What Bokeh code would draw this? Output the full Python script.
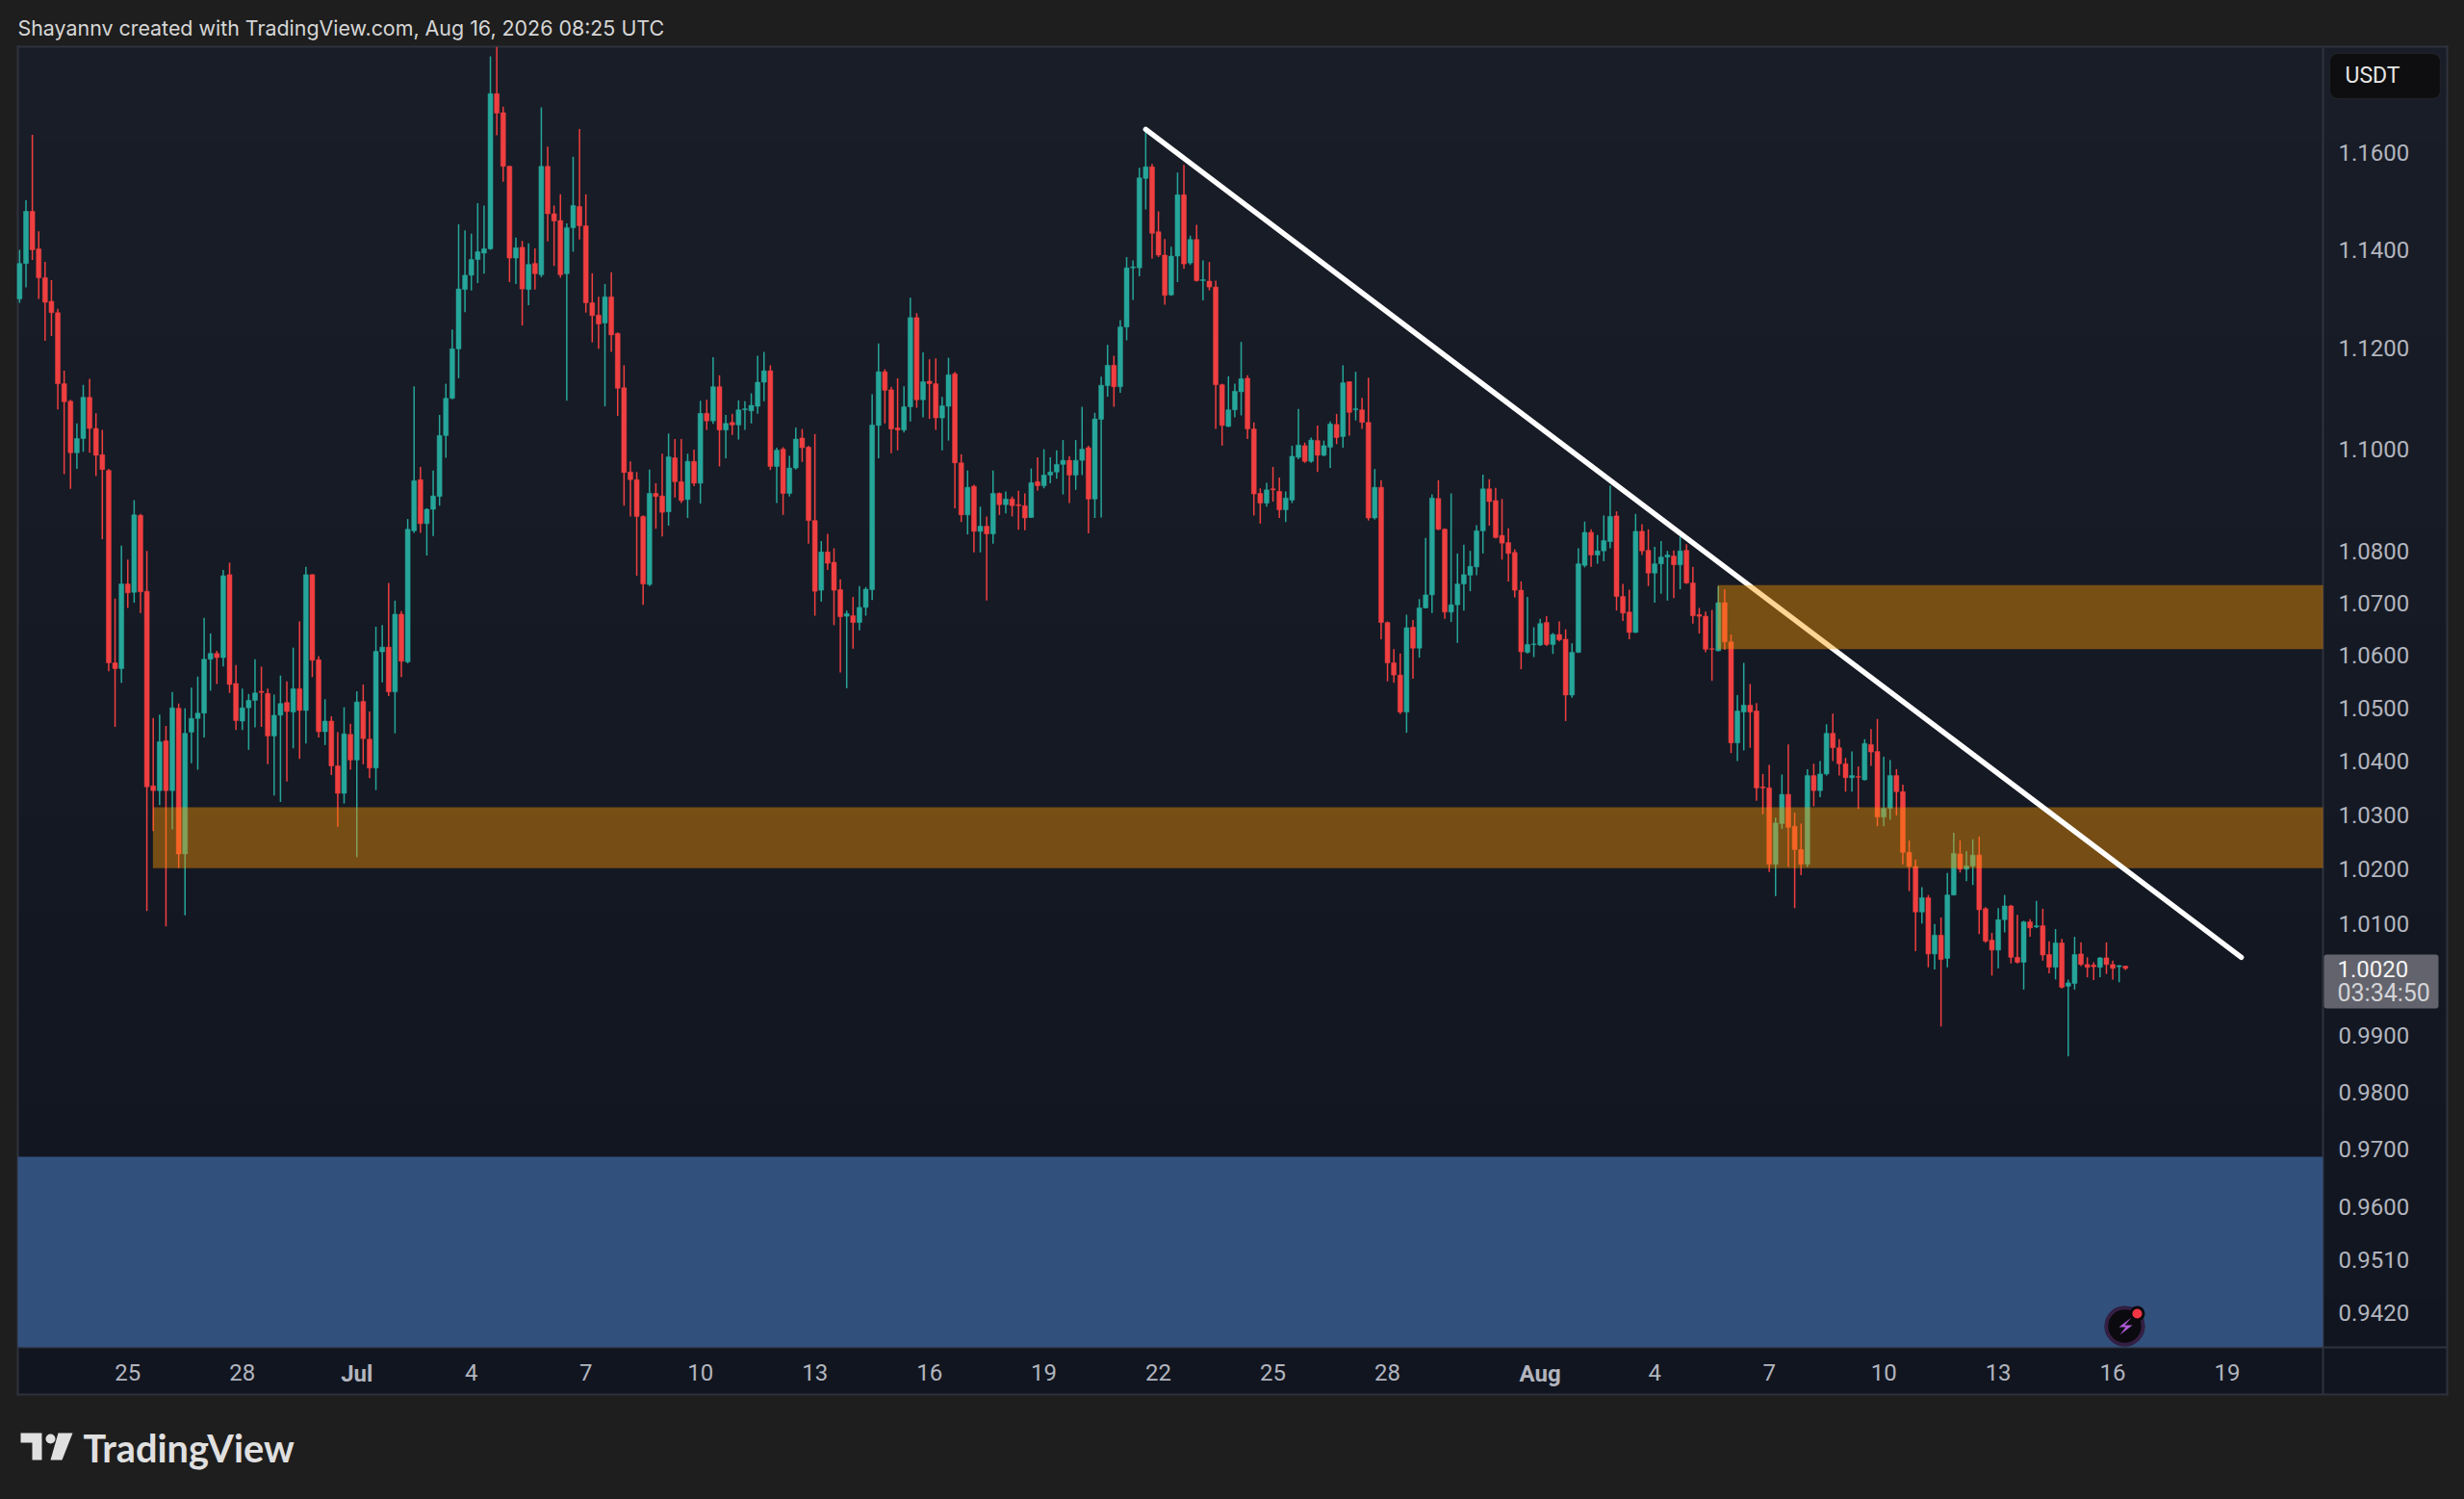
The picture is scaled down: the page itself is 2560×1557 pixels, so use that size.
import pandas as pd
from bokeh.plotting import figure
from bokeh.models import (BoxAnnotation, ColumnDataSource, FixedTicker, Label, PolyAnnotation,
                          PrintfTickFormatter, Range1d)
from bokeh.embed import file_html
from bokeh.resources import INLINE

first_candle = "2026-06-22 04:00"

open_ = [
 1.1300,1.1372,1.1479,1.1402,1.1343,1.1295,1.1272,1.1129,1.1094,1.0992,
 1.1020,1.1102,1.1040,1.0988,1.0957,1.0585,1.0574,1.0736,1.0720,1.0869,
 1.0722,1.0354,1.0345,1.0438,1.0345,1.0499,1.0228,1.0454,1.0480,1.0490,
 1.0592,1.0603,1.0595,1.0754,1.0546,1.0475,1.0500,1.0514,1.0531,1.0527,
 1.0447,1.0486,1.0510,1.0492,1.0536,1.0495,1.0754,1.0591,1.0455,1.0475,
 1.0391,1.0340,1.0450,1.0402,1.0512,1.0441,1.0387,1.0606,1.0615,1.0530,
 1.0678,1.0587,1.0839,1.0939,1.0853,1.0881,1.0906,1.1026,1.1100,1.1199,
 1.1319,1.1348,1.1380,1.1393,1.1402,1.1724,1.1684,1.1572,1.1383,1.1405,
 1.1319,1.1372,1.1349,1.1572,1.1474,1.1460,1.1351,1.1445,1.1489,1.1449,
 1.1292,1.1267,1.1251,1.1304,1.1230,1.1121,1.0954,1.0939,1.0867,1.0735,
 1.0912,1.0907,1.0876,1.0982,1.0935,1.0900,1.0975,1.0932,1.1070,1.1055,
 1.1123,1.1037,1.1052,1.1047,1.1077,1.1075,1.1084,1.1132,1.1155,1.0965,
 1.0999,1.0912,1.0962,1.1021,1.1003,1.0859,1.0724,1.0798,1.0778,1.0725,
 1.0674,1.0675,1.0662,1.0691,1.0725,1.1046,1.1153,1.1117,1.1041,1.1037,
 1.1083,1.1262,1.1097,1.1134,1.1129,1.1061,1.1084,1.1149,1.0972,1.0870,
 1.0926,1.0838,1.0848,1.0833,1.0912,1.0890,1.0901,1.0890,1.0888,1.0865,
 1.0935,1.0927,1.0948,1.0954,1.0969,1.0977,1.0948,1.0977,1.1002,1.0901,
 1.1058,1.1125,1.1166,1.1123,1.1243,1.1363,1.1363,1.1547,1.1571,1.1437,
 1.1389,1.1308,1.1387,1.1513,1.1373,1.1421,1.1337,1.1336,1.1324,1.1127,
 1.1044,1.1077,1.1113,1.1140,1.1039,1.0912,1.0893,1.0921,1.0916,1.0880,
 1.0899,1.0983,1.1006,1.0975,1.1016,1.0987,1.1003,1.1048,1.1024,1.1133,
 1.1077,1.1077,1.1052,1.0864,1.0924,1.0662,1.0585,1.0562,1.0492,1.0653,
 1.0613,1.0690,1.0715,1.0902,1.0842,1.0682,1.0696,1.0736,1.0753,1.0769,
 1.0839,1.0921,1.0898,1.0830,1.0816,1.0797,1.0724,1.0605,1.0620,1.0619,
 1.0662,1.0620,1.0639,1.0630,1.0524,1.0605,1.0772,1.0836,1.0792,1.0800,
 1.0818,1.0868,1.0712,1.0682,1.0643,1.0838,1.0801,1.0757,1.0775,1.0788,
 1.0790,1.0773,1.0801,1.0738,1.0677,1.0674,1.0612,1.0608,1.0700,1.0625,
 1.0434,1.0492,1.0505,1.0494,1.0352,1.0350,1.0209,1.0284,1.0338,1.0279,
 1.0236,1.0209,1.0373,1.0345,1.0376,1.0452,1.0425,1.0395,1.0369,1.0371,
 1.0365,1.0431,1.0418,1.0296,1.0312,1.0373,1.0343,1.0231,1.0205,1.0122,
 1.0148,1.0046,1.0080,1.0038,1.0153,1.0228,1.0200,1.0206,1.0226,1.0128,
 1.0071,1.0053,1.0108,1.0133,1.0040,1.0031,1.0104,1.0095,1.0097,1.0045,
 1.0022,1.0066,0.9988,0.9993,1.0046,1.0027,1.0026,1.0022,1.0039,1.0027,1.0023,1.0024,
]
high = [
 1.1400,1.1502,1.1638,1.1438,1.1375,1.1338,1.1280,1.1155,1.1097,1.1050,
 1.1127,1.1139,1.1070,1.1037,1.0960,1.0708,1.0810,1.0783,1.0899,1.0872,
 1.0800,1.0481,1.0487,1.0466,1.0530,1.0508,1.0499,1.0538,1.0559,1.0671,
 1.0641,1.0608,1.0763,1.0777,1.0581,1.0536,1.0526,1.0592,1.0578,1.0536,
 1.0525,1.0561,1.0550,1.0614,1.0664,1.0769,1.0755,1.0598,1.0516,1.0484,
 1.0454,1.0501,1.0470,1.0531,1.0544,1.0493,1.0654,1.0657,1.0738,1.0704,
 1.0684,1.0862,1.1124,1.0964,1.0883,1.0957,1.1067,1.1129,1.1238,1.1452,
 1.1440,1.1433,1.1496,1.1491,1.1803,1.1823,1.1697,1.1573,1.1425,1.1418,
 1.1413,1.1403,1.1695,1.1613,1.1491,1.1514,1.1454,1.1592,1.1650,1.1514,
 1.1352,1.1304,1.1330,1.1354,1.1232,1.1166,1.0975,1.0954,1.0869,1.0959,
 1.0932,1.0990,1.1030,1.1019,1.1019,1.0990,1.0998,1.1095,1.1097,1.1182,
 1.1146,1.1067,1.1069,1.1096,1.1094,1.1110,1.1185,1.1193,1.1166,1.1002,
 1.1003,1.0986,1.1042,1.1039,1.1006,1.1029,1.0819,1.0833,1.0805,1.0745,
 1.0685,1.0711,1.0732,1.0730,1.1108,1.1210,1.1158,1.1123,1.1140,1.1124,
 1.1302,1.1271,1.1192,1.1178,1.1180,1.1103,1.1181,1.1153,1.0989,1.0957,
 1.0929,1.0886,1.0867,1.0957,1.0914,1.0916,1.0906,1.0917,1.0912,1.0961,
 1.0983,1.0999,1.0983,1.0997,1.1017,1.0985,1.1017,1.1083,1.1006,1.1071,
 1.1143,1.1207,1.1185,1.1257,1.1385,1.1378,1.1569,1.1644,1.1577,1.1479,
 1.1422,1.1406,1.1559,1.1575,1.1429,1.1451,1.1378,1.1375,1.1337,1.1129,
 1.1144,1.1129,1.1213,1.1146,1.1052,1.0922,1.0933,1.0964,1.0943,1.0916,
 1.1006,1.1079,1.1012,1.1022,1.1046,1.1016,1.1054,1.1069,1.1166,1.1134,
 1.1153,1.1101,1.1141,1.0960,1.0938,1.0664,1.0611,1.0603,1.0677,1.0667,
 1.0707,1.0825,1.0910,1.0938,1.0844,1.0912,1.0795,1.0812,1.0800,1.0850,
 1.0949,1.0940,1.0923,1.0901,1.0844,1.0803,1.0741,1.0711,1.0653,1.0669,
 1.0674,1.0642,1.0664,1.0649,1.0622,1.0805,1.0857,1.0842,1.0831,1.0869,
 1.0927,1.0877,1.0736,1.0725,1.0872,1.0852,1.0842,1.0808,1.0819,1.0800,
 1.0801,1.0828,1.0813,1.0769,1.0690,1.0683,1.0686,1.0732,1.0726,1.0639,
 1.0524,1.0585,1.0545,1.0509,1.0376,1.0393,1.0295,1.0375,1.0431,1.0304,
 1.0284,1.0385,1.0395,1.0400,1.0469,1.0489,1.0441,1.0406,1.0418,1.0390,
 1.0441,1.0460,1.0479,1.0408,1.0402,1.0385,1.0356,1.0253,1.0218,1.0167,
 1.0153,1.0100,1.0112,1.0193,1.0267,1.0253,1.0233,1.0255,1.0260,1.0131,
 1.0084,1.0129,1.0153,1.0135,1.0117,1.0106,1.0109,1.0142,1.0128,1.0069,
 1.0091,1.0073,1.0000,1.0077,1.0067,1.0040,1.0031,1.0040,1.0067,1.0034,1.0026,1.0025,
]
low = [
 1.1292,1.1323,1.1379,1.1300,1.1215,1.1225,1.1078,1.0950,1.0921,1.0960,
 1.0994,1.0992,1.0946,1.0823,1.0569,1.0464,1.0547,1.0690,1.0700,1.0680,
 1.0124,1.0270,1.0318,1.0096,1.0273,1.0202,1.0116,1.0396,1.0384,1.0444,
 1.0532,1.0545,1.0578,1.0528,1.0458,1.0458,1.0421,1.0463,1.0464,1.0394,
 1.0336,1.0324,1.0362,1.0424,1.0404,1.0433,1.0558,1.0444,1.0430,1.0374,
 1.0278,1.0321,1.0384,1.0222,1.0394,1.0368,1.0346,1.0548,1.0522,1.0452,
 1.0558,1.0584,1.0835,1.0835,1.0791,1.0829,1.0888,1.0982,1.1098,1.1140,
 1.1273,1.1317,1.1332,1.1351,1.1400,1.1637,1.1540,1.1334,1.1330,1.1246,
 1.1287,1.1319,1.1344,1.1417,1.1367,1.1343,1.1095,1.1396,1.1421,1.1272,
 1.1212,1.1199,1.1084,1.1193,1.1065,1.0888,1.0867,1.0752,1.0696,1.0732,
 1.0843,1.0828,1.0849,1.0904,1.0893,1.0864,1.0926,1.0892,1.1037,1.1049,
 1.0965,1.0981,1.1027,1.1018,1.1037,1.1050,1.1069,1.1094,1.0958,1.0893,
 1.0870,1.0906,1.0959,1.0974,1.0814,1.0675,1.0702,1.0763,1.0657,1.0567,
 1.0537,1.0612,1.0647,1.0675,1.0705,1.0981,1.1050,1.0991,1.0997,1.1032,
 1.1054,1.1081,1.1062,1.1059,1.1037,1.0997,1.1016,1.0883,1.0856,1.0832,
 1.0797,1.0797,1.0704,1.0814,1.0870,1.0873,1.0867,1.0841,1.0840,1.0864,
 1.0917,1.0922,1.0932,1.0941,1.0910,1.0893,1.0919,1.0948,1.0834,1.0864,
 1.0865,1.1103,1.1083,1.1111,1.1216,1.1298,1.1346,1.1483,1.1382,1.1385,
 1.1288,1.1306,1.1334,1.1361,1.1369,1.1335,1.1297,1.1317,1.1039,1.1006,
 1.1043,1.1062,1.1066,1.1019,1.0869,1.0853,1.0886,1.0896,1.0864,1.0856,
 1.0893,1.0979,1.0972,1.0972,1.0954,1.0985,1.0962,1.1009,1.1002,1.1026,
 1.1056,1.1039,1.0859,1.0861,1.0630,1.0550,1.0547,1.0488,1.0453,1.0555,
 1.0595,1.0689,1.0680,1.0840,1.0669,1.0663,1.0623,1.0685,1.0722,1.0753,
 1.0795,1.0849,1.0824,1.0783,1.0741,1.0710,1.0573,1.0603,1.0596,1.0617,
 1.0617,1.0602,1.0626,1.0475,1.0519,1.0604,1.0768,1.0769,1.0775,1.0780,
 1.0805,1.0685,1.0665,1.0630,1.0642,1.0792,1.0732,1.0700,1.0717,1.0704,
 1.0709,1.0726,1.0736,1.0660,1.0641,1.0605,1.0551,1.0607,1.0610,1.0415,
 1.0400,1.0420,1.0425,1.0326,1.0301,1.0195,1.0151,1.0274,1.0204,1.0129,
 1.0189,1.0204,1.0316,1.0333,1.0373,1.0400,1.0373,1.0343,1.0343,1.0311,
 1.0364,1.0391,1.0279,1.0279,1.0291,1.0299,1.0209,1.0160,1.0051,1.0101,
 1.0022,1.0018,0.9916,1.0022,1.0152,1.0194,1.0178,1.0171,1.0082,1.0066,
 1.0007,1.0020,1.0085,1.0029,1.0029,0.9982,1.0077,1.0093,1.0034,1.0011,
 1.0000,0.9984,0.9863,0.9982,1.0024,1.0004,0.9999,1.0004,1.0010,1.0000,0.9995,1.0017,
]
close = [
 1.1372,1.1479,1.1400,1.1343,1.1293,1.1272,1.1129,1.1093,1.0992,1.1020,
 1.1102,1.1040,1.0987,1.0959,1.0585,1.0574,1.0736,1.0719,1.0870,1.0721,
 1.0352,1.0345,1.0436,1.0345,1.0500,1.0228,1.0452,1.0480,1.0490,1.0592,
 1.0603,1.0595,1.0752,1.0544,1.0476,1.0500,1.0514,1.0528,1.0529,1.0447,
 1.0486,1.0508,1.0493,1.0536,1.0495,1.0754,1.0590,1.0455,1.0475,1.0391,
 1.0340,1.0451,1.0402,1.0511,1.0442,1.0387,1.0607,1.0615,1.0530,1.0678,
 1.0588,1.0842,1.0937,1.0853,1.0881,1.0907,1.1026,1.1100,1.1199,1.1320,
 1.1348,1.1380,1.1396,1.1402,1.1724,1.1683,1.1572,1.1383,1.1404,1.1320,
 1.1370,1.1351,1.1572,1.1474,1.1459,1.1349,1.1445,1.1491,1.1449,1.1292,
 1.1266,1.1249,1.1304,1.1227,1.1120,1.0953,1.0939,1.0867,1.0736,1.0912,
 1.0906,1.0875,1.0984,1.0935,1.0898,1.0975,1.0932,1.1070,1.1055,1.1123,
 1.1037,1.1050,1.1047,1.1077,1.1079,1.1086,1.1132,1.1155,1.0965,1.0997,
 1.0912,1.0962,1.1019,1.1002,1.0859,1.0722,1.0798,1.0776,1.0724,1.0673,
 1.0679,1.0662,1.0691,1.0726,1.1047,1.1153,1.1116,1.1039,1.1037,1.1083,
 1.1262,1.1097,1.1133,1.1129,1.1061,1.1085,1.1147,1.0972,1.0870,1.0924,
 1.0838,1.0848,1.0833,1.0912,1.0890,1.0901,1.0888,1.0888,1.0864,1.0933,
 1.0927,1.0948,1.0954,1.0969,1.0977,1.0948,1.0977,1.0999,1.0901,1.1059,
 1.1126,1.1166,1.1123,1.1243,1.1363,1.1365,1.1548,1.1571,1.1434,1.1389,
 1.1307,1.1387,1.1513,1.1371,1.1421,1.1337,1.1339,1.1324,1.1127,1.1046,
 1.1077,1.1114,1.1139,1.1039,1.0911,1.0893,1.0919,1.0919,1.0880,1.0903,
 1.0985,1.1007,1.0975,1.1017,1.0987,1.1006,1.1049,1.1022,1.1131,1.1072,
 1.1079,1.1052,1.0864,1.0924,1.0662,1.0585,1.0562,1.0492,1.0652,1.0613,
 1.0690,1.0715,1.0903,1.0842,1.0682,1.0696,1.0736,1.0754,1.0770,1.0839,
 1.0921,1.0896,1.0826,1.0815,1.0795,1.0724,1.0606,1.0620,1.0621,1.0660,
 1.0620,1.0639,1.0629,1.0524,1.0605,1.0775,1.0836,1.0792,1.0800,1.0820,
 1.0867,1.0712,1.0680,1.0643,1.0838,1.0800,1.0757,1.0775,1.0788,1.0792,
 1.0773,1.0800,1.0738,1.0675,1.0674,1.0611,1.0611,1.0700,1.0625,1.0434,
 1.0494,1.0505,1.0492,1.0350,1.0350,1.0209,1.0285,1.0338,1.0277,1.0236,
 1.0209,1.0373,1.0345,1.0376,1.0452,1.0425,1.0395,1.0369,1.0373,1.0370,
 1.0433,1.0417,1.0296,1.0312,1.0373,1.0343,1.0231,1.0205,1.0122,1.0148,
 1.0046,1.0080,1.0036,1.0153,1.0229,1.0200,1.0206,1.0226,1.0126,1.0069,
 1.0053,1.0108,1.0133,1.0040,1.0031,1.0104,1.0093,1.0097,1.0044,1.0022,
 1.0066,0.9986,0.9994,1.0045,1.0027,1.0022,1.0023,1.0039,1.0027,1.0020,1.0025,1.0020,
]

price_ticks = [1.16, 1.14, 1.12, 1.10, 1.08, 1.07, 1.06, 1.05, 1.04, 1.03, 1.02, 1.01,
               0.99, 0.98, 0.97, 0.96, 0.951, 0.942]
day_ticks = {"2026-06-25": "25", "2026-06-28": "28", "2026-07-04": "4", "2026-07-07": "7",
             "2026-07-10": "10", "2026-07-13": "13", "2026-07-16": "16", "2026-07-19": "19",
             "2026-07-22": "22", "2026-07-25": "25", "2026-07-28": "28", "2026-08-04": "4",
             "2026-08-07": "7", "2026-08-10": "10", "2026-08-13": "13", "2026-08-16": "16",
             "2026-08-19": "19"}
month_ticks = {"2026-07-01": "Jul", "2026-08-01": "Aug"}

lower_zone = (1.0202, 1.0314)
upper_zone = (1.0611, 1.0734)
blue_zone_top = 0.9687
trend_x = ["2026-07-21 16:00", "2026-08-19 08:48"]
trend_y = [1.1649, 1.0040]

OUTER = "#1e1e1e"; BORDER = "#2f323c"; UP = "#26a69a"; DOWN = "#ef3f40"
TEXT = "#b2b5be"; FONT = "Roboto"; TICK_SIZE = "24px"
W, H = 2560, 1557

t0 = pd.Timestamp(first_candle)
times = pd.date_range(t0, periods=len(close), freq="4h")
step = pd.Timedelta(hours=4)
ms = lambda ts: int(pd.Timestamp(ts).timestamp() * 1000)
at = lambda i: t0 + step * i

# the frame is the whole canvas, so the chrome around the pane can be drawn on it
x_axis_price, pane_left_i, pane_right_i = 0.93612, -0.287, 362.04
p = figure(width=W, height=H, output_backend="svg", toolbar_location=None,
           y_axis_type="log", y_axis_location="right",
           x_range=Range1d(ms(at(-3.01)), ms(at(384.28))), y_range=Range1d(0.91087, 1.19218),
           min_border=0, background_fill_color=OUTER, border_fill_color=OUTER,
           outline_line_color=None)
p.grid.visible = False

for ax in (p.xaxis[0], p.yaxis[0]):
    ax.axis_line_color = None
    ax.major_tick_line_color = None
    ax.minor_tick_line_color = None
    ax.major_label_text_color = TEXT
    ax.major_label_text_font = FONT
    ax.major_label_text_font_size = TICK_SIZE
p.yaxis[0].ticker = FixedTicker(ticks=price_ticks)
p.yaxis[0].formatter = PrintfTickFormatter(format="%.4f")
p.yaxis[0].major_label_standoff = 10
p.yaxis[0].fixed_location = ms(at(pane_right_i))
p.xaxis[0].ticker = FixedTicker(ticks=[ms(d) for d in day_ticks])
p.xaxis[0].major_label_overrides = {ms(d): s for d, s in day_ticks.items()}
p.xaxis[0].major_label_standoff = 12
p.xaxis[0].fixed_location = x_axis_price


def box(l, r, t, b, fill, line=None, lw=1, radius=0, level="underlay"):
    kw = dict(border_radius=radius) if radius else {}
    p.add_layout(BoxAnnotation(left=l, right=r, top=t, bottom=b,
                               left_units="canvas", right_units="canvas",
                               top_units="canvas", bottom_units="canvas",
                               fill_color=fill, fill_alpha=1, line_color=line,
                               line_width=lw, level=level, **kw))


def label(px, py, text, color=TEXT, size=TICK_SIZE, style="normal", align="left", font=FONT):
    p.add_layout(Label(x=px, y=py, x_units="canvas", y_units="canvas", text=text,
                       text_color=color, text_font=font, text_font_size=size,
                       text_font_style=style, text_align=align, text_baseline="middle"))


# panel background (soft vertical fade, as in the reference)
top_rgb, bot_rgb = (25, 29, 39), (17, 21, 32)
bands = 14
for k in range(bands):
    f = k / (bands - 1)
    col = "#%02x%02x%02x" % tuple(round(a + (b - a) * f) for a, b in zip(top_rgb, bot_rgb))
    t_px = 48 + 1400 * k / bands
    box(18, 2542, t_px, t_px + 1400 / bands + 1, col)
# panel rules
box(17, 2543, 47, 49, BORDER)
box(17, 2543, 1447, 1449, BORDER)
box(17, 19, 47, 1449, BORDER)
box(2541, 2543, 47, 1449, BORDER)
box(2412, 2414, 48, 1448, BORDER)
box(18, 2542, 1398, 1400, BORDER)

# candles
colors = [UP if c >= o else DOWN for o, c in zip(open_, close)]
src = ColumnDataSource(dict(t=times, o=open_, h=high, l=low, c=close, color=colors))
p.segment(x0="t", y0="h", x1="t", y1="l", color="color", line_width=1.5, source=src)
p.vbar(x="t", width=step * 0.75, top="o", bottom="c", fill_color="color", line_color="color",
       line_width=0.5, source=src)

# zones and the trend line
zone_kw = dict(fill_color="#ff9800", fill_alpha=0.42, line_color=None)
zone_end = at(pane_right_i)
p.quad(left=[times[21] - step * 0.05], right=[zone_end], bottom=[lower_zone[0]], top=[lower_zone[1]], **zone_kw)
p.line(x=pd.to_datetime(trend_x), y=trend_y, line_color="#ffffff", line_width=5.5, line_cap="round")
p.quad(left=[times[267] - step * 0.1], right=[zone_end], bottom=[upper_zone[0]], top=[upper_zone[1]], **zone_kw)
p.quad(left=[at(pane_left_i)], right=[zone_end], bottom=[x_axis_price], top=[blue_zone_top],
       fill_color="#32507c", line_color=None)

# title, logo
label(18, 28, "Shayannv created with TradingView.com, Aug 16, 2026 08:25 UTC", color="#d6d6d6", size="21.4px", font="Inter")
label(86, 1503, "TradingView", color="#e0e0e0", size="39.7px", style="bold", font="Lato")
LOGO = "#e0e0e0"
p.add_layout(PolyAnnotation(xs=[21, 43, 43, 33, 33, 21], ys=[1488, 1488, 1516, 1516, 1498, 1498],
                            xs_units="canvas", ys_units="canvas",
                            fill_color=LOGO, fill_alpha=1, line_color=None))
p.add_layout(PolyAnnotation(xs=[60, 75, 64, 52], ys=[1488, 1488, 1516, 1516],
                            xs_units="canvas", ys_units="canvas",
                            fill_color=LOGO, fill_alpha=1, line_color=None))
box(47, 57, 1489, 1499, LOGO, radius=5, level="annotation")

# month labels are bold
for d, s in month_ticks.items():
    p.add_layout(Label(x=ms(d), y=1426, x_units="data", y_units="canvas", text=s,
                       text_color=TEXT, text_font=FONT, text_font_size=TICK_SIZE,
                       text_font_style="bold", text_align="center", text_baseline="middle"))

# currency button
box(2420, 2535, 55, 102, "#0e0e10", line="#3a3d46", lw=1.5, radius=8, level="annotation")
label(2436, 78, "USDT", color="#e6e6e6", size="23px")

# last price tag
box(2414, 2533, 991, 1047, "#62636c", radius=3, level="annotation")
label(2428, 1006, "1.0020", color="#f4f4f4")
label(2428, 1031, "03:34:50", color="#d4d4d8", size="25px")

# notification badge
box(2186, 2228, 1356, 1398, "#0b0b0f", radius=21, level="annotation")
box(2188, 2226, 1358, 1396, "#0b0b0f", line="#9c4fc4", lw=3.5, radius=19, level="annotation")
p.add_layout(PolyAnnotation(xs=[2214, 2201, 2208, 2202, 2215, 2207], ys=[1368, 1378, 1378, 1386, 1376, 1376],
                            xs_units="canvas", ys_units="canvas",
                            fill_color="#b05cd8", fill_alpha=1, line_color=None))
box(2212, 2228, 1356, 1372, "#0b0b0f", radius=8, level="annotation")
box(2215, 2225, 1359, 1369, "#f23645", radius=5, level="annotation")

html = file_html(p, INLINE).replace("</head>", "<style>html,body{margin:0;background:#1e1e1e}</style></head>")
open("out.html", "w").write(html)
